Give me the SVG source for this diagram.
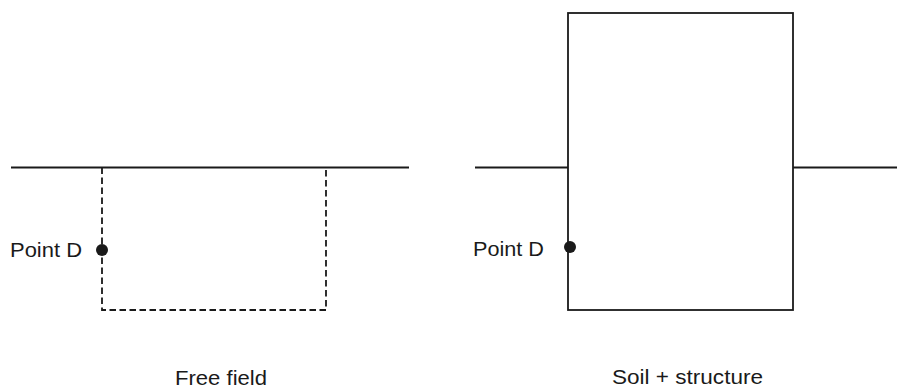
<svg xmlns="http://www.w3.org/2000/svg" width="897" height="390" viewBox="0 0 897 390">
<style>
.ln{stroke:#1a1a1a;stroke-width:1.8;fill:none}
.dash{stroke:#1a1a1a;stroke-width:1.8;fill:none;stroke-dasharray:6.5 3.5}
.dot{fill:#1a1a1a}
text{font-family:"Liberation Sans",Arial,sans-serif;font-size:20px;fill:#1a1a1a}
</style>
<rect width="897" height="390" fill="#fff"/>
<g id="free-field">
<line class="ln" x1="11" y1="167.5" x2="409" y2="167.5"/>
<polyline class="dash" points="102,167.5 102,310 326,310 326,167.5"/>
<circle class="dot" cx="102" cy="250" r="6"/>
<text x="10" y="257" textLength="72" lengthAdjust="spacingAndGlyphs">Point D</text>
<text x="175" y="385" textLength="92" lengthAdjust="spacingAndGlyphs">Free field</text>
</g>
<g id="soil-structure">
<line class="ln" x1="475" y1="167.5" x2="568" y2="167.5"/>
<line class="ln" x1="793" y1="167.5" x2="897" y2="167.5"/>
<rect class="ln" x="568" y="13" width="225" height="297"/>
<circle class="dot" cx="570" cy="247" r="6"/>
<text x="473" y="256" textLength="71" lengthAdjust="spacingAndGlyphs">Point D</text>
<text x="612" y="384" textLength="151" lengthAdjust="spacingAndGlyphs">Soil + structure</text>
</g>
<g id="connectors"></g>
</svg>
